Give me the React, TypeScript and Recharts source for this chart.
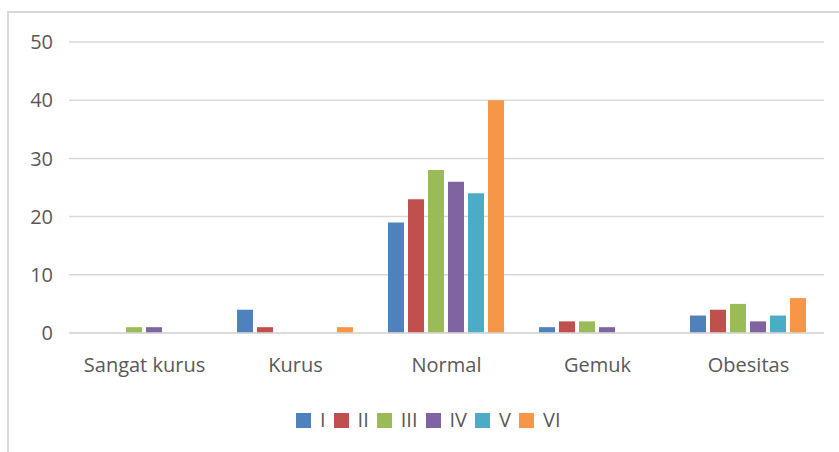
import React from "react";
import { BarChart, Bar, XAxis, YAxis, CartesianGrid } from "recharts";

const categories = ["Sangat kurus", "Kurus", "Normal", "Gemuk", "Obesitas"];
const seriesNames = ["I", "II", "III", "IV", "V", "VI"];
const seriesColors = ["#4F81BD", "#C0504D", "#9BBB59", "#8064A2", "#4BACC6", "#F79646"];

const valuesI = [0, 4, 19, 1, 3];
const valuesII = [0, 1, 23, 2, 4];
const valuesIII = [1, 0, 28, 2, 5];
const valuesIV = [1, 0, 26, 1, 2];
const valuesV = [0, 0, 24, 0, 3];
const valuesVI = [0, 1, 40, 0, 6];

const yTicks = [0, 10, 20, 30, 40, 50];

const allValues = [valuesI, valuesII, valuesIII, valuesIV, valuesV, valuesVI];

const data = categories.map((c, i) => {
  const row: Record<string, string | number> = { name: c };
  seriesNames.forEach((s, j) => {
    row[s] = allValues[j][i];
  });
  return row;
});

const FONT = "'Open Sans', sans-serif";
const TEXT = "#595959";

function ChartLegend() {
  return (
    <div
      style={{
        position: "absolute",
        left: 296,
        top: 408,
        display: "flex",
        fontFamily: FONT,
        fontSize: 20,
        lineHeight: "24px",
        color: TEXT,
      }}
    >
      {seriesNames.map((s, i) => (
        <span key={s} style={{ display: "inline-flex", alignItems: "center", marginRight: 8 }}>
          <span style={{ display: "inline-block", width: 15, height: 15, background: seriesColors[i], marginRight: 9 }} />
          {s}
        </span>
      ))}
    </div>
  );
}

export default function App() {
  return (
    <div style={{ position: "absolute", left: 0, top: 0, width: 839, height: 452, background: "#fff", overflow: "hidden" }}>
      <div
        style={{
          position: "absolute",
          left: 7,
          top: 11,
          width: 860,
          height: 460,
          border: "2px solid #D9D9D9",
          boxSizing: "border-box",
        }}
      />
      <div style={{ position: "absolute", left: 0, top: 0 }}>
        <BarChart
          width={839}
          height={452}
          data={data}
          margin={{ top: 42, right: 15, bottom: 0, left: 0 }}
          barCategoryGap={17}
          barGap={4}
        >
          <CartesianGrid vertical={false} stroke="#D9D9D9" strokeWidth={1.5} />
          <XAxis
            dataKey="name"
            height={119}
            tickLine={false}
            axisLine={{ stroke: "#D9D9D9", strokeWidth: 1.5 }}
            tickMargin={19}
            tick={{ fill: TEXT, fontSize: 20, fontFamily: FONT }}
            interval={0}
          />
          <YAxis
            width={69}
            domain={[0, 50]}
            ticks={yTicks}
            axisLine={false}
            tickLine={false}
            tickSize={0}
            tickMargin={16}
            tick={{ fill: TEXT, fontSize: 20, fontFamily: FONT }}
          />
          {seriesNames.map((s, i) => (
            <Bar key={s} dataKey={s} fill={seriesColors[i]} isAnimationActive={false} />
          ))}
        </BarChart>
      </div>
      <ChartLegend />
    </div>
  );
}
